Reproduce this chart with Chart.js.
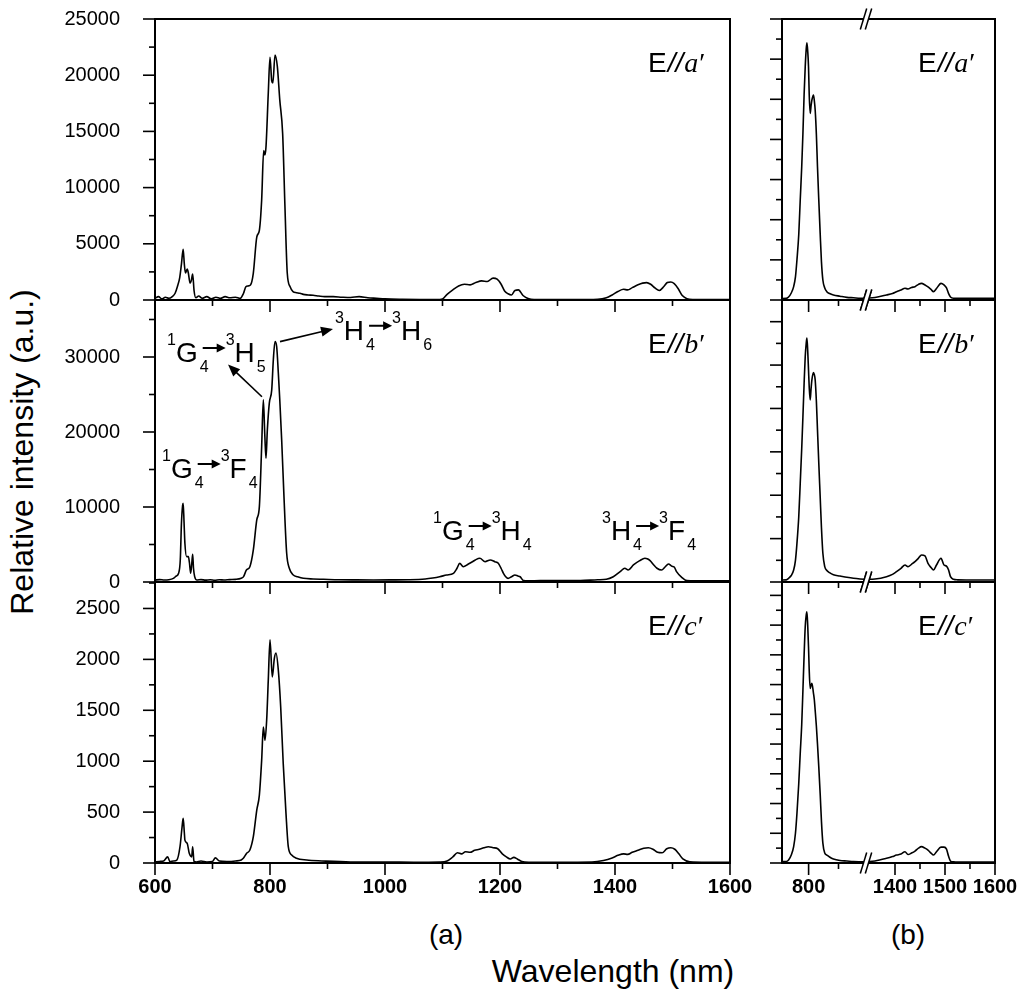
<!DOCTYPE html>
<html>
<head>
<meta charset="utf-8">
<script src="https://cdn.jsdelivr.net/npm/chart.js@4.4.1/dist/chart.umd.min.js"></script>
<style>
html,body{margin:0;padding:0;background:#fff;}
#wrap{position:relative;width:1024px;height:998px;overflow:hidden;background:#fff;}
#wrap canvas{position:absolute;left:0;top:0;pointer-events:none;}
.t{position:absolute;font-family:"Liberation Sans",Arial,sans-serif;color:#000;white-space:nowrap;line-height:1;}
</style>
</head>
<body>
<div id="wrap">
  <div class="t" style="font-size:32px;left:22px;top:452px;transform:translate(-50%,-50%) rotate(-90deg);">Relative intensity (a.u.)</div>
  <div class="t" style="font-size:32px;left:613px;top:971px;transform:translate(-50%,-50%);">Wavelength (nm)</div>
  <div class="t" style="font-size:28px;left:446px;top:935px;transform:translate(-50%,-50%);">(a)</div>
  <div class="t" style="font-size:28px;left:908px;top:935px;transform:translate(-50%,-50%);">(b)</div>
</div>
<script>
// ================= DATA =================
// Panel (a), E//a'
const wlA1 = [600,606,612,618,624,630,635,639,643,646,649,651,653,656,658,661,663,665.5,668,671,676,682,690,698,706,714,722,730,740,748,754,758,762,766,771,777,781.5,785.5,789,791,793,797,800,803,805,808.7,812.7,817,822,826,830,835,840,846,852,858,866,875,885,895,910,925,940,955,970,985,1000,1030,1060,1090,1100,1108,1118,1128,1138,1148,1158,1168,1178,1188,1195,1202,1208,1214,1220,1226,1232,1240,1250,1260,1290,1330,1370,1385,1395,1405,1415,1422,1430,1440,1448,1455,1462,1470,1477,1485,1491,1497,1503,1510,1517,1525,1535,1560,1600];
const intA1 = [150,300,100,250,150,300,600,1200,2000,3200,4500,3200,2400,2750,2400,1500,1700,2300,800,200,350,150,300,100,250,150,300,200,250,150,600,1180,1250,1330,2400,5600,6200,8900,13300,12900,13600,18400,21600,19500,19300,21800,20800,17800,14800,8300,2400,1180,740,650,600,500,450,420,350,300,300,250,220,300,200,150,100,60,40,30,100,500,900,1250,1400,1350,1550,1700,1650,1950,1850,1400,800,550,450,850,900,400,100,40,30,30,60,200,450,750,950,900,1100,1350,1500,1550,1400,1050,850,1200,1550,1600,1450,1000,400,120,40,30,30];

// Panel (a), E//b'
const wlA2 = [600,608,616,624,632,637,641,644,646,648,649,650.5,652,655,658,660,662,664,665.5,667,669,673,680,688,696,704,712,720,730,740,750,754,759,765,771,777,781.5,785.5,788.4,791,793,795.4,798.8,803,805.8,808.7,811.6,814.5,817,820.3,824.3,829,833.6,840.5,848,858,875,893,920,950,980,1010,1040,1070,1083,1095,1107,1119,1125,1130,1136,1145,1152,1157,1165,1174,1183,1191,1197,1202,1206,1210,1214,1220,1226,1231,1235,1241,1250,1270,1300,1340,1370,1385,1397,1409,1417,1423,1432,1443,1452,1456,1461,1467,1473,1481,1487,1493,1499,1503,1507,1516,1525,1540,1570,1600];
const intA2 = [250,320,260,300,490,800,1160,3000,7830,10200,10500,8000,5160,3380,3380,2500,1160,2500,3690,1800,710,270,320,250,300,220,300,260,320,350,500,710,1600,2040,4270,8270,10050,18060,24290,19500,16500,20300,23850,25620,29630,32070,31400,27850,24290,18950,11380,3830,1830,930,700,490,400,360,300,280,270,280,300,400,530,700,930,1160,1800,2490,2040,2400,2700,2940,3160,2710,2940,2710,2500,1800,1160,700,490,700,930,800,700,180,150,200,180,200,300,360,700,1380,1830,1600,2270,2850,3160,3100,2850,2300,1830,1600,2000,2400,2100,2000,1380,630,180,150,160,150];

// Panel (a), E//c'
const wlA3 = [600,608,615,622,626,632,638,643.5,647,649,651,652,656,659.6,663.8,665.5,667.8,672,680,690,700,705,712,725,740,750,753.6,759.4,765,771,777,781.5,785.5,788.4,791.3,794.2,797,800,804,807.5,810.4,814.5,818.6,823,827.8,831.8,837.7,846,863.8,890,940,1000,1050,1095,1108,1118,1126,1133,1140,1148,1156,1164,1172,1180,1188,1196,1204,1211,1218,1224,1230,1238,1250,1300,1360,1380,1395,1405,1415,1422,1430,1440,1450,1458,1466,1474,1482,1490,1497,1504,1511,1518,1530,1560,1600];
const intA3 = [10,15,20,60,15,20,29,160,350,438,300,225,193,95,60,160,15,10,20,10,15,50,20,15,20,30,46,95,127,258,520,667,1010,1336,1206,1402,1794,2193,1827,2007,2062,1892,1532,977,487,160,78,46,29,20,10,10,8,10,20,60,100,90,110,105,125,135,150,160,150,140,90,60,40,55,40,15,8,8,10,25,50,75,90,85,105,125,145,150,135,105,100,140,150,135,90,40,12,8,8];

// Panel (b): broken axis, left part (~710-990 nm) and right part (1340-1600 nm)
const wlBL = [711,725,733,742,750,756,761,767,772,777,781,785,788.7,792,794.3,797,799.7,802,805.3,808,811,816.3,819,822,826,829.7,834,838.7,843,847.7,854,861,870,883,905,928,950,972,992];
const intB1L = [150,160,300,700,1330,2300,3990,6500,9960,13300,16600,20500,23250,25000,25640,24800,23250,20500,18600,19300,19930,20430,19900,18930,16500,13280,10000,6640,3800,1990,1200,830,650,500,380,265,220,170,160];
const intB2L = [280,300,510,900,1660,3000,5350,9000,13660,18500,22880,27500,31180,33000,33730,32000,29340,27000,25190,26600,27960,28970,28700,27960,25000,21040,16500,11810,7500,3970,2120,1600,1290,1000,830,650,510,420,370];
const intB3L = [15,15,30,80,165,300,500,800,1107,1400,1745,2100,2384,2500,2535,2400,2182,1950,1762,1790,1813,1712,1650,1540,1380,1200,972,700,420,200,100,80,60,40,25,20,15,13,12];

const wlBR = [1342,1360,1383,1395,1403,1412,1420,1426,1433,1440,1447,1453,1460,1466,1472,1477,1483,1492,1498,1503,1507,1511,1517,1525,1550,1575,1600];
const intB1R = [170,250,500,650,830,1000,1165,1100,1250,1330,1560,1660,1500,1300,1050,830,1150,1660,1500,1200,660,300,180,170,170,160,160];
const intB2R = [370,420,740,1050,1430,1900,2350,2120,2450,2810,3300,3740,3600,2580,2000,1660,2350,3280,2350,2200,1700,740,370,300,280,280,280];
const intB3R = [12,20,47,65,80,90,114,85,100,120,150,165,150,131,100,80,114,160,160,140,70,20,12,10,10,10,10];

// Tick label values
const xLabelsA = [600,800,1000,1200,1400,1600];
const xLabelsBL = [800];
const xLabelsBR = [1400,1500,1600];
const yLabelsA1 = [0,5000,10000,15000,20000,25000];
const yLabelsA2 = [0,10000,20000,30000];
const yLabelsA3 = [0,500,1000,1500,2000,2500];

// Panel texts
const polLetters = ['a','b','c'];
const transitionLabels = [
  ['1','G','4','3','H','5'],
  ['3','H','4','3','H','6'],
  ['1','G','4','3','F','4'],
  ['1','G','4','3','H','4'],
  ['3','H','4','3','F','4']
];

// ================= DRAWING =================
const W = 1024, H = 998;
const FONT = '"Liberation Sans", Arial, sans-serif';
const SERIF = '"Liberation Serif", "Times New Roman", serif';
Chart.defaults.font.family = FONT;
Chart.defaults.color = '#000';

function steps(a, b, st) { const out = []; for (let v = a; v <= b + 1e-9; v += st) out.push(Math.round(v * 1000) / 1000); return out; }

function drawELabel(ctx, x, y, letter) {
  ctx.fillStyle = '#000'; ctx.textAlign = 'left'; ctx.textBaseline = 'alphabetic';
  ctx.font = '28px ' + FONT; ctx.fillText('E', x, y); x += ctx.measureText('E').width + 1;
  ctx.font = 'italic 28px ' + FONT; ctx.fillText('//', x, y); x += ctx.measureText('//').width + 1;
  ctx.font = 'italic 28px ' + SERIF; ctx.fillText(letter, x, y); x += ctx.measureText(letter).width + 1;
  ctx.font = '28px ' + SERIF; ctx.fillText('\u2032', x, y);
}

function arrow(ctx, x0, y0, x1, y1, lw, hl, hw) {
  const ang = Math.atan2(y1 - y0, x1 - x0);
  const c = Math.cos(ang), s = Math.sin(ang);
  const bx = x1 - hl * c, by = y1 - hl * s;
  ctx.lineWidth = lw; ctx.beginPath(); ctx.moveTo(x0, y0); ctx.lineTo(bx + c, by + s); ctx.stroke();
  ctx.beginPath(); ctx.moveTo(x1, y1);
  ctx.lineTo(bx + hw * s, by - hw * c);
  ctx.lineTo(bx - hw * s, by + hw * c);
  ctx.closePath(); ctx.fill();
}

function drawTransition(ctx, x, y, t) {
  const big = '28px ' + FONT, small = '16px ' + FONT;
  ctx.fillStyle = '#000'; ctx.strokeStyle = '#000'; ctx.textAlign = 'left'; ctx.textBaseline = 'alphabetic';
  ctx.font = small; ctx.fillText(t[0], x, y - 17); x += ctx.measureText(t[0]).width;
  ctx.font = big; ctx.fillText(t[1], x, y); x += ctx.measureText(t[1]).width;
  const subX = x + 2;
  ctx.font = small; ctx.fillText(t[2], subX, y + 10);
  arrow(ctx, subX + 3, y - 14, subX + 26, y - 14, 2, 9, 4.5);
  x = subX + 26;
  ctx.font = small; ctx.fillText(t[3], x, y - 17); x += ctx.measureText(t[3]).width;
  ctx.font = big; ctx.fillText(t[4], x, y); x += ctx.measureText(t[4]).width;
  ctx.font = small; ctx.fillText(t[5], x + 2, y + 10);
}

function breakMark(ctx, x, y) {
  const h = 10.5, d = 2.5, s = 3.2;
  ctx.fillStyle = '#fff';
  ctx.beginPath();
  ctx.moveTo(x - d - s, y + h); ctx.lineTo(x - d + s, y - h);
  ctx.lineTo(x + d + s, y - h); ctx.lineTo(x + d - s, y + h);
  ctx.closePath(); ctx.fill();
  ctx.strokeStyle = '#000'; ctx.lineWidth = 1.5; ctx.lineCap = 'butt';
  ctx.beginPath(); ctx.moveTo(x - d - s, y + h); ctx.lineTo(x - d + s, y - h); ctx.stroke();
  ctx.beginPath(); ctx.moveTo(x + d - s, y + h); ctx.lineTo(x + d + s, y - h); ctx.stroke();
}

function zeroPad(s) { s.paddingLeft = 0; s.paddingRight = 0; s.paddingTop = 0; s.paddingBottom = 0; }

function makePanel(p) {
  const wrap = document.getElementById('wrap');
  const cv = document.createElement('canvas');
  cv.width = W; cv.height = H;
  cv.style.width = W + 'px'; cv.style.height = H + 'px';
  wrap.appendChild(cv);
  const A = p.area;
  const decor = {
    id: 'decor',
    afterDatasetsDraw(chart) {
      const ctx = chart.ctx, ca = chart.chartArea, xs = chart.scales.x, ys = chart.scales.y;
      ctx.save();
      ctx.strokeStyle = '#000'; ctx.fillStyle = '#000'; ctx.lineWidth = 1.6; ctx.lineCap = 'butt';
      const tickX = (vals, len) => vals.forEach(v => {
        const px = xs.getPixelForValue(v);
        ctx.beginPath(); ctx.moveTo(px, ca.bottom); ctx.lineTo(px, ca.bottom + len); ctx.stroke();
      });
      const tickY = (vals, len) => vals.forEach(v => {
        const py = ys.getPixelForValue(v);
        ctx.beginPath(); ctx.moveTo(ca.left, py); ctx.lineTo(ca.left - len, py); ctx.stroke();
      });
      tickX(p.xMajor, 12); tickX(p.xMinor, 6);
      if (p.yTicks) { tickY(p.yMajor, 12); tickY(p.yMinor, 6); }
      ctx.lineWidth = 2; ctx.lineCap = 'square';
      const seg = (x0, y0, x1, y1) => { ctx.beginPath(); ctx.moveTo(x0, y0); ctx.lineTo(x1, y1); ctx.stroke(); };
      seg(ca.left, ca.top, ca.right, ca.top);
      seg(ca.left, ca.bottom, ca.right, ca.bottom);
      if (p.left) seg(ca.left, ca.top, ca.left, ca.bottom);
      if (p.right) seg(ca.right, ca.top, ca.right, ca.bottom);
      ctx.restore();
      if (p.draw) { ctx.save(); p.draw(ctx, ca, xs, ys); ctx.restore(); }
    }
  };
  return new Chart(cv, {
    type: 'line',
    data: {
      datasets: [{
        data: p.x.map((x, i) => ({ x: x, y: p.y[i] })),
        borderColor: '#000', borderWidth: 1.6, pointRadius: 0, fill: false,
        cubicInterpolationMode: 'monotone'
      }]
    },
    options: {
      responsive: false, animation: false, events: [],
      layout: { padding: { left: 0, top: A.t, right: W - A.r, bottom: 0 } },
      plugins: { legend: { display: false }, tooltip: { enabled: false }, title: { display: false } },
      scales: {
        x: {
          type: 'linear', position: 'bottom', min: p.xMin, max: p.xMax,
          grid: { display: false, drawTicks: false }, border: { display: false },
          afterBuildTicks: s => { s.ticks = p.xLabels.map(v => ({ value: v })); },
          afterFit: s => { s.height = H - A.b; zeroPad(s); },
          ticks: { display: !!p.showX, autoSkip: false, maxRotation: 0, minRotation: 0, padding: 12,
                   color: '#000', font: { family: FONT, size: 20, weight: 'bold' }, callback: v => String(v) }
        },
        y: {
          type: 'linear', position: 'left', min: p.yMin, max: p.yMax,
          grid: { display: false, drawTicks: false }, border: { display: false },
          afterBuildTicks: s => { s.ticks = p.yLabels.map(v => ({ value: v })); },
          afterFit: s => { s.width = A.l; zeroPad(s); },
          ticks: { display: !!p.showY, autoSkip: false, padding: 35,
                   color: '#000', font: { family: FONT, size: 20 }, callback: v => String(v) }
        }
      }
    },
    plugins: [decor]
  });
}

// ---------- layout rows ----------
const rows = [
  { t: 19, b: 300 },
  { t: 300, b: 582 },
  { t: 582, b: 863 }
];
const AL = 155, AR = 730, BL = 782, BM = 866, BR = 995;
const aMaxY = [25000, 37600, 2760];
const aYLabels = [yLabelsA1, yLabelsA2, yLabelsA3];
const aYMinor = [steps(2500, 25000, 5000), steps(5000, 37600, 10000), steps(250, 2760, 500)];
const aX = [wlA1, wlA2, wlA3], aY = [intA1, intA2, intA3];

const bMaxY = [28000, 39000, 2835];
const bMajor = [steps(0, 28000, 4000), steps(0, 36000, 6000), steps(0, 2700, 300)];
const bMinor = [steps(2000, 26000, 4000), steps(3000, 33000, 6000), steps(150, 2550, 300)];
const bYL = [intB1L, intB2L, intB3L], bYR = [intB1R, intB2R, intB3R];

for (let i = 0; i < 3; i++) {
  const r = rows[i];
  // ----- (a) column -----
  makePanel({
    area: { l: AL, t: r.t, r: AR, b: r.b },
    x: aX[i], y: aY[i], xMin: 600, xMax: 1600, yMin: 0, yMax: aMaxY[i],
    xLabels: xLabelsA, showX: i === 2, xMajor: xLabelsA, xMinor: [700, 900, 1100, 1300, 1500],
    yLabels: aYLabels[i], showY: true, yTicks: true, yMajor: aYLabels[i], yMinor: aYMinor[i],
    left: true, right: true,
    draw: (ctx, ca, xs, ys) => {
      drawELabel(ctx, ca.right - 82, ca.top + 53, polLetters[i]);
      if (i === 1) {
        const P = (wl, v) => [xs.getPixelForValue(wl), ys.getPixelForValue(v)];
        ctx.fillStyle = '#000'; ctx.strokeStyle = '#000';
        // arrows from peaks to their labels
        let a0 = P(786, 24700), a1 = P(727, 29000);
        arrow(ctx, a0[0], a0[1], a1[0], a1[1], 1.6, 12, 5);
        a0 = P(817.4, 32050); a1 = P(909.6, 33750);
        arrow(ctx, a0[0], a0[1], a1[0], a1[1], 1.6, 12, 5);
        const anchors = [[620.9, 29330], [913, 32300], [612.2, 13870], [1083.5, 5600], [1377.4, 5600]];
        anchors.forEach((an, k) => { const q = P(an[0], an[1]); drawTransition(ctx, q[0], q[1], transitionLabels[k]); });
      }
    }
  });
  // ----- (b) column, left part -----
  makePanel({
    area: { l: BL, t: r.t, r: BM, b: r.b },
    x: wlBL, y: bYL[i], xMin: 711, xMax: 992, yMin: 0, yMax: bMaxY[i],
    xLabels: xLabelsBL, showX: i === 2, xMajor: xLabelsBL, xMinor: [900],
    yLabels: [0], showY: false, yTicks: true, yMajor: bMajor[i], yMinor: bMinor[i],
    left: true, right: false
  });
  // ----- (b) column, right part -----
  makePanel({
    area: { l: BM, t: r.t, r: BR, b: r.b },
    x: wlBR, y: bYR[i], xMin: 1342, xMax: 1600, yMin: 0, yMax: bMaxY[i],
    xLabels: xLabelsBR, showX: i === 2, xMajor: xLabelsBR, xMinor: [1450, 1550],
    yLabels: [0], showY: false, yTicks: false, yMajor: [], yMinor: [],
    left: false, right: true,
    draw: (ctx, ca) => {
      breakMark(ctx, ca.left, ca.top);
      breakMark(ctx, ca.left, ca.bottom);
      drawELabel(ctx, ca.right - 77, ca.top + 53, polLetters[i]);
    }
  });
}
</script>
</body>
</html>
